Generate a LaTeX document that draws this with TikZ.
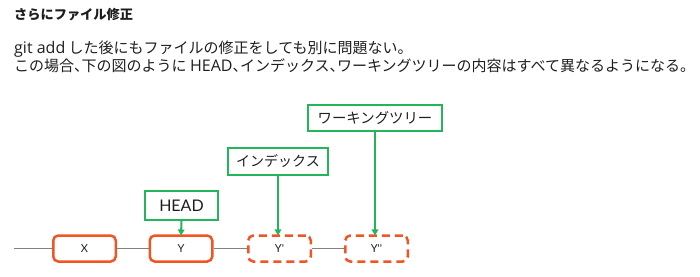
\documentclass[tikz,border=0pt]{standalone}
\usepackage{fontspec}
\setmainfont{Noto Sans CJK JP}
\newfontfamily\latofont{Lato}
\newfontfamily\opensans{Open Sans}
\newcommand{\latn}[1]{{\opensans\fontsize{16}{16}\selectfont #1}}
\newcommand{\hc}{、\kern-0.5em}
\usetikzlibrary{arrows.meta}
\definecolor{orng}{RGB}{242,84,36}
\definecolor{grn}{RGB}{34,181,90}
\definecolor{txt}{RGB}{30,30,30}
\definecolor{gline}{RGB}{130,130,130}
\begin{document}
\begin{tikzpicture}[x=1pt,y=-1pt,
  commit/.style={draw=orng,line width=2.5pt,rounded corners=5pt,minimum width=62.5pt,minimum height=26pt,inner sep=0pt,font=\latofont\fontsize{11}{11}\selectfont,text=txt},
  dcommit/.style={commit,dash pattern=on 8pt off 5pt},
  ref/.style={draw=grn,line width=2.3pt,inner sep=0pt,text=txt},
  ptr/.style={draw=grn,line width=2pt,-{Triangle[width=6.5pt,length=6pt]}},
  hist/.style={draw=gline,line width=1pt},
  para/.style={anchor=base west,inner sep=0pt,text=txt}]
\useasboundingbox (0,0) rectangle (700,276);
% texts
\node[para,font=\fontsize{13.2}{13.2}\selectfont\bfseries] (title) at (14,19) {さらにファイル修正};
\node[para,font=\fontsize{15}{15}\selectfont] (l1) at (14,53) {\latn{git add} した後にもファイルの修正をしても別に問題ない。};
\node[para,font=\fontsize{15}{15}\selectfont] (l2) at (14,71) {この場合\hc 下の図のように \latn{HEAD}\hc インデックス\hc ワーキングツリーの内容はすべて異なるようになる。};
% commits
\coordinate (start) at (14,248.5);
\node[commit] (x) at (84.5,248.5) {X};
\node[commit] (y) at (181,248.5) {Y};
\node[dcommit] (y1) at (279.5,248.5) {Y'};
\node[dcommit] (y2) at (376.5,248.5) {Y''};
\draw[hist] (start) -- (x);
\draw[hist] (x) -- (y);
\draw[hist] (y) -- (y1);
\draw[hist] (y1) -- (y2);
% refs
\node[ref,minimum width=72.5pt,minimum height=28.5pt,font=\latofont\fontsize{16}{16}\selectfont] (head) at (181.5,205.5) {HEAD};
\node[ref,minimum width=99.5pt,minimum height=26.5pt,font=\fontsize{14}{14}\selectfont] (idx) at (278,161.5) {インデックス};
\node[ref,minimum width=133.5pt,minimum height=25.5pt,font=\fontsize{14.4}{14.4}\selectfont] (wt) at (375,118) {ワーキングツリー};
\draw[ptr] (head.south) -- ([yshift=-1.2pt]y.north);
\draw[ptr] (idx.south) -- ([yshift=-1.2pt]idx.south |- y1.north);
\draw[ptr] (wt.south) -- ([yshift=-1.2pt]wt.south |- y2.north);
\end{tikzpicture}
\end{document}
